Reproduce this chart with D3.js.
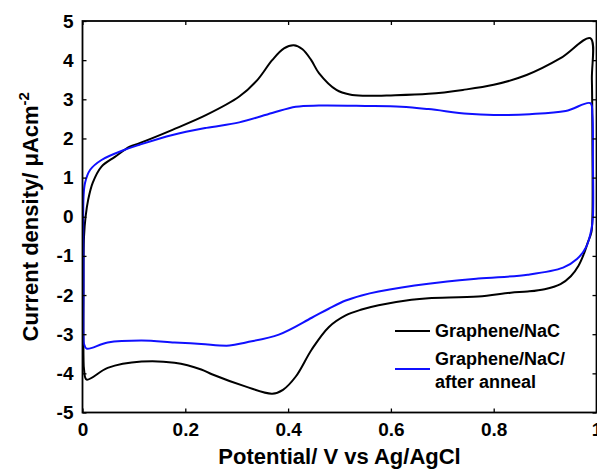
<!DOCTYPE html>
<html>
<head>
<meta charset="utf-8">
<script src="https://cdn.jsdelivr.net/npm/d3@7"></script>
<style>
  body { margin: 0; background: #fff; }
  text { font-family: "Liberation Sans", Arial, Helvetica, sans-serif; font-weight: bold; }
</style>
</head>
<body>
<div id="chart"></div>
<script>
// potential (V vs Ag/AgCl) and current density (uA cm-2)
var blackPotential = [0.002, 0.002, 0.003, 0.006, 0.011, 0.020, 0.037, 0.063, 0.092, 0.111, 0.175, 0.241, 0.305, 0.340, 0.369, 0.392, 0.411, 0.428, 0.445, 0.460, 0.494, 0.520, 0.550, 0.600, 0.673, 0.740, 0.800, 0.864, 0.930, 0.988, 0.991, 0.992, 0.992, 0.990, 0.983, 0.976, 0.965, 0.950, 0.930, 0.899, 0.866, 0.833, 0.770, 0.673, 0.640, 0.576, 0.543, 0.512, 0.479, 0.446, 0.415, 0.390, 0.369, 0.318, 0.253, 0.231, 0.179, 0.115, 0.049, 0.008, 0.003];
var blackCurrent = [-3.6, -2.0, -0.5, 0.0, 0.43, 0.87, 1.28, 1.53, 1.79, 1.88, 2.22, 2.60, 3.07, 3.49, 4.00, 4.30, 4.38, 4.28, 4.00, 3.67, 3.24, 3.12, 3.09, 3.10, 3.14, 3.24, 3.37, 3.62, 4.05, 4.56, 3.5, 2.0, 0.0, -0.4, -0.66, -0.93, -1.25, -1.52, -1.72, -1.85, -1.91, -1.94, -2.04, -2.08, -2.12, -2.26, -2.37, -2.52, -2.82, -3.39, -4.08, -4.42, -4.52, -4.34, -4.03, -3.90, -3.73, -3.70, -3.86, -4.16, -3.9];

var bluePotential = [0.002, 0.002, 0.002, 0.005, 0.015, 0.037, 0.082, 0.111, 0.175, 0.241, 0.305, 0.369, 0.415, 0.460, 0.550, 0.620, 0.673, 0.750, 0.800, 0.870, 0.940, 0.988, 0.992, 0.993, 0.993, 0.990, 0.980, 0.962, 0.935, 0.866, 0.770, 0.673, 0.576, 0.543, 0.512, 0.479, 0.446, 0.382, 0.318, 0.286, 0.231, 0.179, 0.115, 0.049, 0.008, 0.003];
var blueCurrent = [-3.1, -1.5, 0.5, 0.87, 1.20, 1.45, 1.71, 1.84, 2.09, 2.27, 2.41, 2.65, 2.81, 2.84, 2.83, 2.81, 2.75, 2.63, 2.60, 2.62, 2.70, 2.90, 2.6, 1.5, 0.0, -0.33, -0.77, -1.08, -1.30, -1.48, -1.58, -1.71, -1.91, -2.01, -2.14, -2.35, -2.58, -3.01, -3.21, -3.29, -3.25, -3.21, -3.16, -3.21, -3.37, -3.25];

var seriesNames = ['Graphene/NaC', 'Graphene/NaC/after anneal'];
var xTicks = [0, 0.2, 0.4, 0.6, 0.8, 1];
var yTicks = [-5, -4, -3, -2, -1, 0, 1, 2, 3, 4, 5];

var width = 597,
    height = 469,
    plotLeft = 82.5,
    plotRight = 596.5,
    plotTop = 21,
    plotBottom = 412.5;

var svg = d3.select('#chart').append('svg').attr('width', width).attr('height', height);

var x = d3.scaleLinear().domain([0, 1]).range([plotLeft, plotRight]),
    y = d3.scaleLinear().domain([-5, 5]).range([plotBottom, plotTop]);

function zip(vs, is) {
  return vs.map(function(v, i) { return [v, is[i]]; });
}

var line = d3.line()
    .x(function(d) { return x(d[0]); })
    .y(function(d) { return y(d[1]); })
    .curve(d3.curveCatmullRomClosed.alpha(0.5));

svg.append('path').datum(zip(blackPotential, blackCurrent))
  .attr('d', line).attr('fill', 'none').attr('stroke', '#000').attr('stroke-width', 2);
svg.append('path').datum(zip(bluePotential, blueCurrent))
  .attr('d', line).attr('fill', 'none').attr('stroke', '#1010ff').attr('stroke-width', 2);

// axes, ticks pointing inward, mirrored on top and right
var tickLen = 4;
svg.append('g').attr('transform', 'translate(0,' + plotBottom + ')')
  .call(d3.axisBottom(x).tickValues(xTicks).tickSizeInner(-tickLen).tickSizeOuter(0).tickPadding(10)
    .tickFormat(function(d) { return d === 0 || d === 1 ? String(d) : d.toFixed(1); }));
svg.append('g').attr('transform', 'translate(0,' + plotTop + ')')
  .call(d3.axisTop(x).tickValues(xTicks).tickSizeInner(-tickLen).tickSizeOuter(0).tickFormat(''));
svg.append('g').attr('transform', 'translate(' + plotLeft + ',0)')
  .call(d3.axisLeft(y).tickValues(yTicks).tickSizeInner(-tickLen).tickSizeOuter(0).tickPadding(9)
    .tickFormat(function(d) { return String(d); }));
svg.append('g').attr('transform', 'translate(' + plotRight + ',0)')
  .call(d3.axisRight(y).tickValues(yTicks).tickSizeInner(-tickLen).tickSizeOuter(0).tickFormat(''));

svg.selectAll('.domain').remove();
svg.selectAll('.tick line').attr('stroke', '#000').attr('stroke-width', 1.3);
svg.selectAll('.tick text').attr('font-size', 19).attr('fill', '#000')
  .style('font-family', '"Liberation Sans", Arial, sans-serif').style('font-weight', 'bold');

svg.append('rect')
  .attr('x', plotLeft).attr('y', plotTop).attr('width', plotRight - plotLeft).attr('height', plotBottom - plotTop)
  .attr('fill', 'none').attr('stroke', '#000').attr('stroke-width', 1.8);

// titles
svg.append('text')
  .attr('x', (plotLeft + plotRight) / 2).attr('y', 464)
  .attr('text-anchor', 'middle').attr('font-size', 22)
  .text('Potential/ V vs Ag/AgCl');

var yLabel = svg.append('text')
  .attr('transform', 'translate(38,' + ((plotTop + plotBottom) / 2) + ') rotate(-90)')
  .attr('text-anchor', 'middle').attr('font-size', 22);
yLabel.append('tspan').text('Current density/ \u03bcAcm');
yLabel.append('tspan').attr('dy', -9).attr('font-size', 15).text('-2');

// legend
var legend = svg.append('g');
var legendColors = ['#000', '#1010ff'],
    legendY = [331, 369];
legend.selectAll('line').data(seriesNames).enter().append('line')
  .attr('x1', 395).attr('x2', 430)
  .attr('y1', function(d, i) { return legendY[i]; })
  .attr('y2', function(d, i) { return legendY[i]; })
  .attr('stroke', function(d, i) { return legendColors[i]; })
  .attr('stroke-width', 2);

legend.append('text').attr('x', 435).attr('y', 337).attr('font-size', 18).text(seriesNames[0]);
var second = legend.append('text').attr('x', 435).attr('y', 365).attr('font-size', 18);
second.append('tspan').text('Graphene/NaC/');
second.append('tspan').attr('x', 435).attr('dy', 22.5).text('after anneal');
</script>
</body>
</html>
